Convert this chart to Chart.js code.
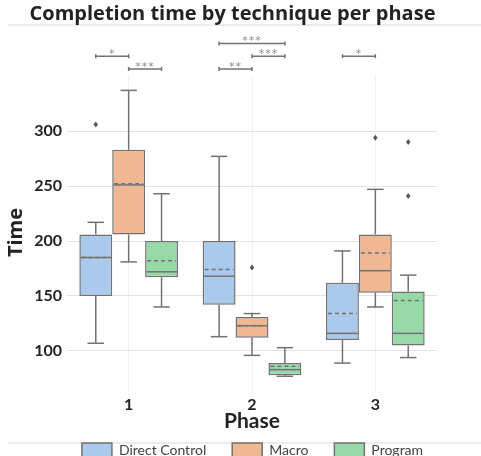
<!DOCTYPE html>
<html>
<head>
<meta charset="utf-8">
<script src="https://cdn.jsdelivr.net/npm/chart.js@4.4.1/dist/chart.umd.min.js"></script>
<style>
  html, body { margin: 0; padding: 0; background: #fff; overflow: hidden; }
  #wrap { position: relative; width: 481px; height: 456px; }
</style>
</head>
<body>
<div id="wrap"><canvas id="boxChart"></canvas></div>
<script>
// categories and series
const phases = ["1", "2", "3"];
const techniques = ["Direct Control", "Macro", "Program"];
const boxColours = ["#abc9ea", "#efb792", "#98daa7"];
const yTicks = [100, 150, 200, 250, 300];

// box stats, one row per technique, one column per phase
const lowWhisker = [[107, 113, 89], [181, 96, 140], [140, 77, 94]];
const q1 = [[150, 142, 110], [206, 112, 153], [167, 78, 105]];
const median = [[185, 168, 116], [251, 123, 173], [172, 83, 116]];
const mean = [[185, 174, 134], [252, 123, 189], [182, 86, 146]];
const q3 = [[206, 200, 162], [283, 131, 206], [200, 89, 154]];
const highWhisker = [[217, 277, 191], [337, 134, 247], [243, 103, 169]];
const outliers = [[[306], [], []], [[], [176], [294]], [[], [], [290, 241]]];

// significance brackets (phase index, technique from/to, stacking row, label)
const sigPhase = [0, 0, 1, 1, 1, 2];
const sigFrom = [0, 1, 0, 1, 0, 0];
const sigTo = [1, 2, 1, 2, 2, 1];
const sigRow = [1, 0, 0, 1, 2, 1];
const sigStars = ["*", "***", "**", "***", "***", "*"];

const lineGrey = "#727272";
const legendPad = 26;
const legendShift = 20;   // legend sits a bit right of centre in the original

function line(ctx, x1, y1, x2, y2) {
  ctx.beginPath();
  ctx.moveTo(x1, y1);
  ctx.lineTo(x2, y2);
  ctx.stroke();
}

// whiskers, medians, means and fliers on top of the floating bars
const boxParts = {
  id: "boxParts",
  afterDatasetsDraw(chart) {
    const ctx = chart.ctx;
    const y = chart.scales.y;
    ctx.save();
    ctx.strokeStyle = lineGrey;
    ctx.lineWidth = 1.5;
    techniques.forEach(function (tech, i) {
      chart.getDatasetMeta(i).data.forEach(function (bar, j) {
        const x = bar.x;
        const half = bar.width / 2;
        const cap = bar.width / 4;
        const yHi = y.getPixelForValue(highWhisker[i][j]);
        const yLo = y.getPixelForValue(lowWhisker[i][j]);
        ctx.setLineDash([]);
        line(ctx, x, y.getPixelForValue(q3[i][j]), x, yHi);
        line(ctx, x, y.getPixelForValue(q1[i][j]), x, yLo);
        line(ctx, x - cap, yHi, x + cap, yHi);
        line(ctx, x - cap, yLo, x + cap, yLo);
        const yMed = y.getPixelForValue(median[i][j]);
        line(ctx, x - half + 1, yMed, x + half - 1, yMed);
        ctx.setLineDash([4, 3]);
        const yMean = y.getPixelForValue(mean[i][j]);
        line(ctx, x - half + 2, yMean, x + half - 2, yMean);
        ctx.setLineDash([]);
        ctx.fillStyle = "#555";
        outliers[i][j].forEach(function (v) {
          const py = y.getPixelForValue(v);
          ctx.beginPath();
          ctx.moveTo(x, py - 3);
          ctx.lineTo(x + 2.2, py);
          ctx.lineTo(x, py + 3);
          ctx.lineTo(x - 2.2, py);
          ctx.closePath();
          ctx.fill();
        });
      });
    });
    ctx.restore();
  }
};

// significance brackets above the plot
const sigBrackets = {
  id: "sigBrackets",
  afterDraw(chart) {
    const ctx = chart.ctx;
    const top = chart.chartArea.top;
    ctx.save();
    ctx.strokeStyle = lineGrey;
    ctx.lineWidth = 1.5;
    ctx.fillStyle = "#8a8a8a";
    ctx.font = "11px 'DejaVu Sans'";
    ctx.textAlign = "center";
    ctx.textBaseline = "alphabetic";
    if ("letterSpacing" in ctx) ctx.letterSpacing = "1px";
    sigStars.forEach(function (stars, k) {
      const x1 = chart.getDatasetMeta(sigFrom[k]).data[sigPhase[k]].x;
      const x2 = chart.getDatasetMeta(sigTo[k]).data[sigPhase[k]].x;
      const yy = top - 6 - sigRow[k] * 12.8;
      line(ctx, x1, yy, x2, yy);
      line(ctx, x1, yy - 2, x1, yy + 2);
      line(ctx, x2, yy - 2, x2, yy + 2);
      ctx.fillText(stars, (x1 + x2) / 2, yy + 1);
    });
    ctx.restore();
  }
};

// thin rules under the title and above the legend, plus legend nudge
const frameRules = {
  id: "frameRules",
  afterLayout(chart) {
    chart.legend.left += legendShift;
    chart.legend.right += legendShift;
  },
  beforeDraw(chart) {
    const ctx = chart.ctx;
    ctx.save();
    ctx.strokeStyle = "#d9d9d9";
    ctx.lineWidth = 1;
    const yTitle = chart.titleBlock.top + 25;
    const yLegend = chart.legend.top + legendPad;
    line(ctx, 8, yTitle, chart.width, yTitle);
    line(ctx, 8, yLegend, chart.width, yLegend);
    ctx.restore();
  }
};

const datasets = techniques.map(function (tech, i) {
  return {
    label: tech,
    data: phases.map(function (p, j) {
      return [q1[i][j], q3[i][j]];
    }),
    backgroundColor: boxColours[i],
    borderColor: lineGrey,
    borderWidth: 1.5,
    borderSkipped: false,
    categoryPercentage: 0.8,
    barPercentage: 1.0
  };
});

const ctx = document.getElementById("boxChart").getContext("2d");
new Chart(ctx, {
  type: "bar",
  data: { labels: phases, datasets: datasets },
  plugins: [frameRules, boxParts, sigBrackets],
  options: {
    responsive: true,
    maintainAspectRatio: false,
    animation: false,
    events: [],
    layout: { padding: { left: 28, right: 44, top: 0, bottom: -11 } },
    plugins: {
      title: {
        display: true,
        text: "Completion time by technique per phase",
        color: "#222",
        font: { family: "Open Sans", size: 20, weight: "bold" },
        padding: { top: 2, bottom: 49 }
      },
      legend: {
        position: "bottom",
        labels: {
          boxWidth: 30,
          boxHeight: 14,
          padding: legendPad,
          color: "#444",
          font: { family: "Lato", size: 14 }
        }
      },
      tooltip: { enabled: false }
    },
    scales: {
      x: {
        grid: { color: "#f1f1f1", offset: false, drawTicks: false },
        border: { display: false },
        ticks: {
          color: "#222",
          padding: 5,
          font: { family: "Lato", size: 16, weight: "bold" }
        },
        title: {
          display: true,
          text: "Phase",
          color: "#222",
          font: { family: "Lato", size: 21, weight: "bold" },
          padding: { top: 0, bottom: -17 }
        },
        afterFit: function (scale) { scale.height = 27; }
      },
      y: {
        min: 64.5,
        max: 351,
        grid: { color: "#e3e3e3", drawTicks: false },
        border: { display: false },
        ticks: {
          color: "#222",
          padding: 5,
          font: { family: "Lato", size: 16, weight: "bold" }
        },
        afterBuildTicks: function (scale) {
          scale.ticks = yTicks.map(function (v) { return { value: v }; });
        },
        title: {
          display: true,
          text: "Time",
          color: "#222",
          font: { family: "Open Sans", size: 20, weight: "bold" },
          padding: { top: -24, bottom: 0 }
        },
        afterFit: function (scale) { scale.width = 39; }
      }
    }
  }
});
</script>
</body>
</html>
